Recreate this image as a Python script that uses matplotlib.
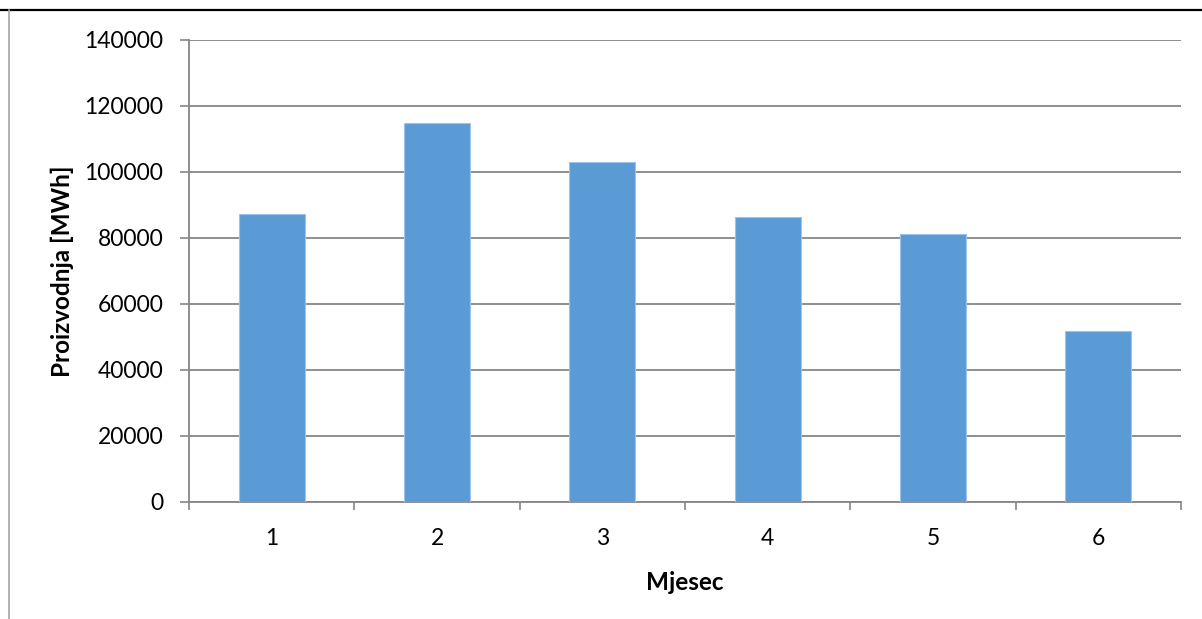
import matplotlib
matplotlib.use('Agg')
import matplotlib.pyplot as plt
import numpy as np
from matplotlib.lines import Line2D

plt.rcParams['font.family'] = ['Lato', 'DejaVu Sans']

mjeseci = ['1', '2', '3', '4', '5', '6']
proizvodnja = [87200, 115000, 103000, 86500, 81200, 51700]
y_ticks = [0, 20000, 40000, 60000, 80000, 100000, 120000, 140000]

fig = plt.figure(figsize=(12.02, 6.19), dpi=100)
ax = fig.add_axes([189/1202, 1 - 502/619, (1181-189)/1202, (502-40)/619])

x = np.arange(1, len(mjeseci) + 1)
ax.bar(x, proizvodnja, width=0.4, color='#5B9BD5', edgecolor='#9DC3E6',
       linewidth=0.8, zorder=3)

ax.set_xlim(0.5, 6.5)
ax.set_ylim(0, 140000)
ax.set_yticks(y_ticks)
ax.set_yticklabels([str(v) for v in y_ticks], fontsize=16.5)
ax.set_xticks(x)
ax.set_xticklabels(mjeseci, fontsize=16.5)
ax.set_xticks(np.arange(0.5, 7, 1), minor=True)
ax.tick_params(axis='x', which='major', length=0, pad=19)
ax.tick_params(axis='x', which='minor', length=6, width=1.2, color='#868686', direction='out')
ax.tick_params(axis='y', length=6.5, width=1.2, color='#868686', pad=12)

ax.grid(axis='y', color='#868686', linewidth=1.3, zorder=0)
for s in ['top', 'right']:
    ax.spines[s].set_visible(False)
for s in ['left', 'bottom']:
    ax.spines[s].set_color('#868686')
    ax.spines[s].set_linewidth(1.3)

ax.set_ylabel('Proizvodnja [MWh]', fontsize=17.5, fontweight='bold')
ax.yaxis.set_label_coords(-(189-62)/(1181-189), 0.5)
ax.set_xlabel('Mjesec', fontsize=17.5, fontweight='bold')
ax.xaxis.set_label_coords(0.5, -(582-502)/(502-40))
ax.xaxis.label.set_verticalalignment('center')
ax.yaxis.label.set_verticalalignment('center')

# okvir stranice
fig.add_artist(Line2D([0, 1], [1 - 10/619, 1 - 10/619], color='black', linewidth=1.6))
fig.add_artist(Line2D([9/1202, 9/1202], [0, 1 - 10/619], color='#A6A6A6', linewidth=1.2))

fig.savefig('out.png', dpi=100)
